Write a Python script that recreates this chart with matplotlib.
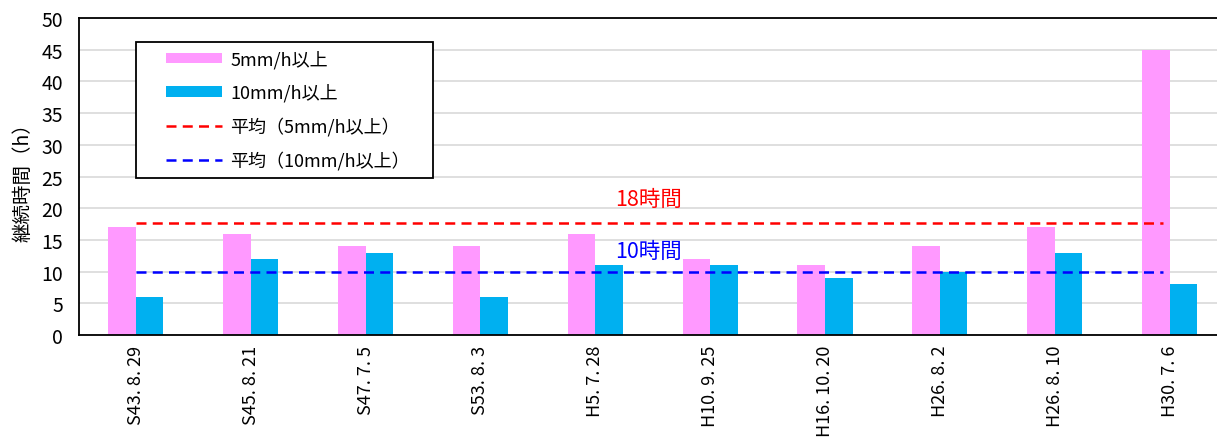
import matplotlib
matplotlib.use("Agg")
import matplotlib.pyplot as plt
import numpy as np
from matplotlib.patches import Patch, Rectangle
from matplotlib.lines import Line2D

plt.rcParams['font.family'] = ['Noto Sans CJK JP', 'DejaVu Sans']

events = ["S43. 8. 29", "S45. 8. 21", "S47. 7. 5", "S53. 8. 3", "H5. 7. 28",
          "H10. 9. 25", "H16. 10. 20", "H26. 8. 2", "H26. 8. 10", "H30. 7. 6"]
hours_5mm = [17, 16, 14, 14, 16, 12, 11, 14, 17, 45]
hours_10mm = [6, 12, 13, 6, 11, 11, 9, 10, 13, 8]

avg_5mm = float(np.mean(hours_5mm))
avg_10mm = float(np.mean(hours_10mm))

pink = "#FF99FF"
cyan = "#00B0F0"

W, H = 1217, 439
fig = plt.figure(figsize=(W / 100, H / 100), dpi=100)
left, right, top, bottom = 78.5, 1227, 19, 336
ax = fig.add_axes([left / W, 1 - bottom / H, (right - left) / W, (bottom - top) / H])

x = np.arange(len(events))
bw = 0.24
ax.bar(x - bw / 2, hours_5mm, bw, color=pink, zorder=2)
ax.bar(x + bw / 2, hours_10mm, bw, color=cyan, zorder=2)

dash = (0, (4, 2.5))
ax.hlines(avg_5mm, 0, len(events) - 1.06, colors="#FF0000", linestyles=dash, lw=1.8, zorder=3)
ax.hlines(avg_10mm, 0, len(events) - 1.06, colors="#0000FF", linestyles=dash, lw=1.8, zorder=3)

ax.text(4.17, 21.45, f"{round(avg_5mm)}時間", color="#FF0000", fontsize=15.5, va="center", ha="left")
ax.text(4.17, 13.2, f"{round(avg_10mm)}時間", color="#0000FF", fontsize=15.5, va="center", ha="left")

ax.set_xlim(-0.5, len(events) - 0.5)
ax.set_ylim(0, 50)
ax.set_yticks(range(0, 51, 5))
ax.grid(axis="y", color="#D9D9D9", lw=1.2, zorder=0)
ax.set_axisbelow(True)
ax.set_xticks(x)
ax.set_xticklabels(events, rotation=90, fontsize=13, va="top")
ax.tick_params(axis="both", length=0)
ax.tick_params(axis="x", pad=7, labelsize=13)
ax.tick_params(axis="y", pad=11, labelsize=14)
ax.set_ylabel("継続時間（h）", fontsize=14, labelpad=6)

for s in ("left", "bottom", "top"):
    ax.spines[s].set_color("black")
    ax.spines[s].set_linewidth(1.3)
ax.spines["right"].set_visible(False)


def to_axes(px, py):
    return (px - left) / (right - left), 1 - (py - top) / (bottom - top)


# legend frame
fx0, fy0 = to_axes(136, 179)
fx1, fy1 = to_axes(433, 43)
ax.add_patch(Rectangle((fx0, fy0), fx1 - fx0, fy1 - fy0, transform=ax.transAxes,
                       facecolor="white", edgecolor="black", lw=1.3, zorder=5, clip_on=False))

handles = [
    Patch(facecolor=pink, edgecolor="none"),
    Patch(facecolor=cyan, edgecolor="none"),
    Line2D([0], [0], color="#FF0000", ls=dash, lw=1.8),
    Line2D([0], [0], color="#0000FF", ls=dash, lw=1.8),
]
labels = ["5mm/h以上", "10mm/h以上", "平均（5mm/h以上）", "平均（10mm/h以上）"]
leg = ax.legend(handles, labels, loc="upper left", bbox_to_anchor=to_axes(166, 51),
                fontsize=13, frameon=False, handlelength=3.1, handleheight=0.5,
                labelspacing=0.82, borderpad=0, borderaxespad=0, handletextpad=0.45)
leg.set_zorder(6)

fig.savefig("out.png", dpi=100)
